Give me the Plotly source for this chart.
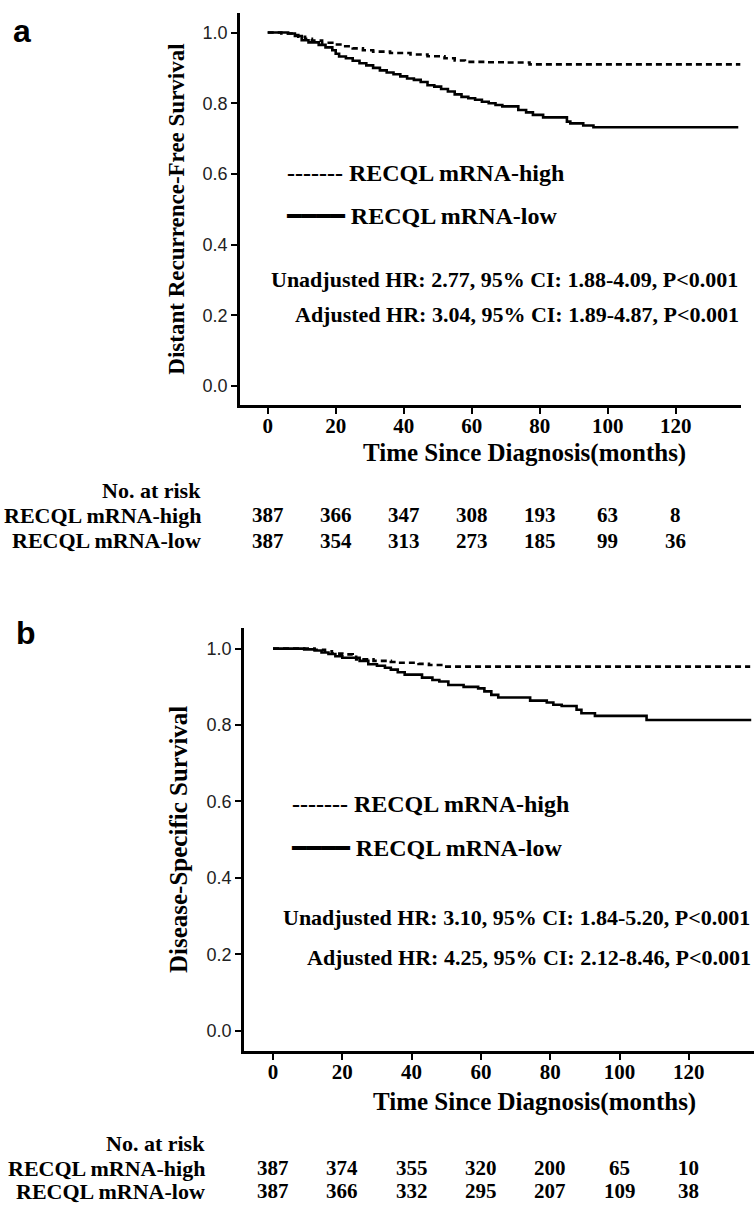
import plotly.graph_objects as go

W, H = 754, 1207

# ---------------- data ----------------
# Panel a: distant recurrence-free survival
a_high_t = [0, 4, 7, 9, 11, 13, 16, 19, 22, 25, 28, 31, 36, 42, 47, 52, 55, 58, 64, 70, 77, 139]
a_high_s = [1.0, 0.997, 0.993, 0.988, 0.982, 0.977, 0.971, 0.966, 0.961, 0.955, 0.950, 0.946,
            0.942, 0.938, 0.933, 0.927, 0.921, 0.917, 0.916, 0.915, 0.910, 0.910]
a_low_t = [0, 6, 8, 10, 12, 15, 17, 19, 20, 21, 23, 25, 27, 29, 31, 33, 35, 37, 39, 41, 43, 45,
           47, 49, 51, 53, 55, 57, 59, 61, 63, 65, 67, 69, 73.7, 76, 78, 81, 88, 89, 92.8, 95.8, 138.4]
a_low_s = [1.0, 0.997, 0.99, 0.978, 0.972, 0.965, 0.958, 0.95, 0.94, 0.932, 0.927, 0.92, 0.913,
           0.907, 0.90, 0.893, 0.887, 0.882, 0.876, 0.87, 0.866, 0.86, 0.851, 0.847, 0.84, 0.833,
           0.825, 0.818, 0.814, 0.81, 0.804, 0.80, 0.795, 0.791, 0.781, 0.774, 0.767, 0.760,
           0.748, 0.743, 0.737, 0.732, 0.732]

# Panel b: disease-specific survival
b_high_t = [0, 12, 15, 17, 20, 23, 24, 29, 34, 36, 42, 45, 50, 137.7]
b_high_s = [1.0, 0.997, 0.993, 0.987, 0.985, 0.983, 0.972, 0.968, 0.965, 0.963, 0.96, 0.957,
            0.953, 0.953]
b_low_t = [0, 9, 12, 14, 16, 18, 20, 25, 27.5, 30, 32.3, 34, 36, 38, 43, 46, 48, 50.6, 55, 59.2,
           61, 63, 65, 74.2, 79, 80.9, 83.3, 87.6, 89, 92.9, 107.8, 138]
b_low_s = [1.0, 0.998, 0.995, 0.99, 0.986, 0.98, 0.976, 0.968, 0.959, 0.955, 0.95, 0.945, 0.938,
           0.932, 0.924, 0.918, 0.914, 0.905, 0.90, 0.896, 0.888, 0.879, 0.872, 0.864, 0.859,
           0.853, 0.85, 0.84, 0.831, 0.824, 0.813, 0.813]

risk_times = [0, 20, 40, 60, 80, 100, 120]
a_risk_high = [387, 366, 347, 308, 193, 63, 8]
a_risk_low = [387, 354, 313, 273, 185, 99, 36]
b_risk_high = [387, 374, 355, 320, 200, 65, 10]
b_risk_low = [387, 366, 332, 295, 207, 109, 38]

y_ticks = [0.0, 0.2, 0.4, 0.6, 0.8, 1.0]

group_high = "RECQL mRNA-high"
group_low = "RECQL mRNA-low"
a_ytitle = "Distant Recurrence-Free Survival"
b_ytitle = "Disease-Specific Survival"
xtitle = "Time Since Diagnosis(months)"
a_hr = ["Unadjusted HR: 2.77, 95% CI: 1.88-4.09, P<0.001",
        "Adjusted HR: 3.04, 95% CI: 1.89-4.87, P<0.001"]
b_hr = ["Unadjusted HR: 3.10, 95% CI: 1.84-5.20, P<0.001",
        "Adjusted HR: 4.25, 95% CI: 2.12-8.46, P<0.001"]

# ---------------- helpers ----------------
SERIF = "Liberation Serif, Times New Roman, serif"
SANS = "Liberation Sans, Arial, sans-serif"


def px(x):
    return x / W


def py(y):
    return 1 - y / H


fig = go.Figure()

line_w = 2.6
for xa, ya, ht, hs, lt, ls in [("x", "y", a_high_t, a_high_s, a_low_t, a_low_s),
                               ("x2", "y2", b_high_t, b_high_s, b_low_t, b_low_s)]:
    fig.add_trace(go.Scatter(x=ht, y=hs, mode="lines", name=group_high, xaxis=xa, yaxis=ya,
                             line=dict(shape="hv", color="black", width=line_w, dash="6px,4px"),
                             showlegend=False))
    fig.add_trace(go.Scatter(x=lt, y=ls, mode="lines", name=group_low, xaxis=xa, yaxis=ya,
                             line=dict(shape="hv", color="black", width=line_w),
                             showlegend=False))

common_x = dict(showline=True, linecolor="black", linewidth=2.6, ticks="outside", ticklen=6,
                tickwidth=2, tickcolor="black", tickvals=risk_times, showgrid=False,
                zeroline=False, ticklabelstandoff=-6,
                tickfont=dict(family=SERIF, size=21, color="black", weight=700))
common_y = dict(showline=True, linecolor="black", linewidth=2.6, ticks="outside", ticklen=6,
                tickwidth=2, tickcolor="black", tickvals=y_ticks, tickformat=".1f",
                showgrid=False, zeroline=False,
                tickfont=dict(family=SANS, size=18, color="#222"))

fig.update_layout(
    width=W, height=H, margin=dict(l=0, r=0, t=0, b=0),
    paper_bgcolor="white", plot_bgcolor="white",
    xaxis=dict(domain=[px(240), px(741)], range=[-8.15, 139.2], anchor="y", **common_x),
    yaxis=dict(domain=[py(405), py(13)], range=[-0.0537, 1.0552], anchor="x",
               title=dict(text=a_ytitle, standoff=12,
                          font=dict(family=SERIF, size=23, color="black", weight=700)),
               **common_y),
    xaxis2=dict(domain=[px(244), 1.0], range=[-8.37, 138.8], anchor="y2", **common_x),
    yaxis2=dict(domain=[py(1050.7), py(628)], range=[-0.0524, 1.054], anchor="x2",
                title=dict(text=b_ytitle, standoff=12,
                           font=dict(family=SERIF, size=25, color="black", weight=700)),
                **common_y),
)

ann = []


def txt(text, x, y, size, xanchor="center", family=SERIF, weight=700, xref="paper"):
    ann.append(dict(text=text, x=x, y=y, xref=xref, yref="paper", showarrow=False,
                    xanchor=xanchor, yanchor="middle",
                    font=dict(family=family, size=size, color="black", weight=weight)))


# panel labels
txt("a", px(22), py(31), 32, family=SANS)
txt("b", px(26), py(633), 32, family=SANS)

solid = '<span style="font-family:DejaVu Sans">━━━━</span>'

# panel a legend / HR text
txt("------- " + group_high, px(285), py(173), 24, xanchor="left")
txt(solid + " " + group_low, px(284), py(216), 24, xanchor="left")
txt(a_hr[0], px(740), py(279), 22, xanchor="right")
txt(a_hr[1], px(741), py(315), 22, xanchor="right")
txt(xtitle, px(524.5), py(453), 25)

# panel b legend / HR text
txt("------- " + group_high, px(290), py(804), 24, xanchor="left")
txt(solid + " " + group_low, px(289), py(848), 24, xanchor="left")
txt(b_hr[0], px(752), py(917), 22, xanchor="right")
txt(b_hr[1], px(753), py(957), 22, xanchor="right")
txt(xtitle, px(534), py(1102), 25)

# number-at-risk tables
for xref, rows_y, head_y, high, low, lab_x in [("x", (515, 540.7), 490, a_risk_high, a_risk_low, 203),
                                               ("x2", (1168, 1191), 1143, b_risk_high, b_risk_low, 207)]:
    txt("No. at risk", px(lab_x), py(head_y), 22, xanchor="right")
    txt(group_high, px(lab_x), py(rows_y[0]), 22, xanchor="right")
    txt(group_low, px(lab_x), py(rows_y[1]), 22, xanchor="right")
    for t, n in zip(risk_times, high):
        txt(str(n), t, py(rows_y[0]), 21, xref=xref)
    for t, n in zip(risk_times, low):
        txt(str(n), t, py(rows_y[1]), 21, xref=xref)

fig.update_layout(annotations=ann)
fig.write_html("out.html", config={"displayModeBar": False},
               post_script="document.body.style.margin='0px';document.body.style.overflow='hidden';")
